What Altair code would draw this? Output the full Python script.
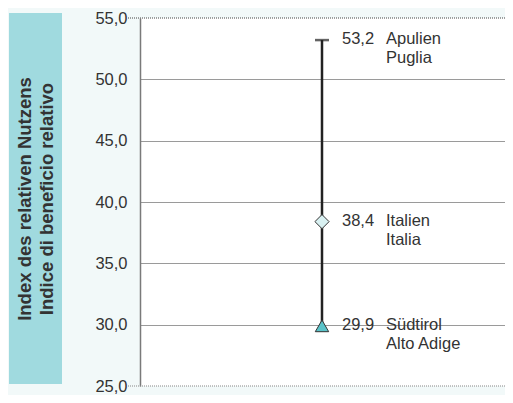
import altair as alt
import pandas as pd

regions_de = ["Apulien", "Italien", "Südtirol"]
regions_it = ["Puglia", "Italia", "Alto Adige"]
values = [53.2, 38.4, 29.9]
value_labels = ["53,2", "38,4", "29,9"]
markers = ["cap", "diamond", "triangle"]
axis_ticks = [25, 30, 35, 40, 45, 50, 55]
y_domain = [25, 55]
title_lines = ["Index des relativen Nutzens", "Indice di beneficio relativo"]

df = pd.DataFrame({
    "de": regions_de,
    "it": regions_it,
    "value": values,
    "vlabel": value_labels,
    "marker": markers,
})

W, H = 365, 368
PT = 10
XPOS = 182
yscale = alt.Scale(domain=y_domain, nice=False, zero=False)
yaxis = alt.Axis(
    values=axis_ticks,
    title=None,
    labelExpr="replace(format(datum.value, '.1f'), '.', ',')",
    labelFont="Liberation Sans",
    labelFontSize=16.5,
    labelColor="#333333",
    labelPadding=13,
    ticks=False,
    domainColor="#7a7a7a",
    domainWidth=1.5,
    gridColor="#9a9a9a",
    gridWidth=1.2,
    gridOpacity={"condition": {"test": "datum.value == 25 || datum.value == 55", "value": 0}, "value": 1},
)

base = alt.Chart(df)

# title box
box = alt.Chart(pd.DataFrame({"t": [title_lines[0]]})).mark_rect(color="#a0dadf").encode(
    x=alt.value(-131), x2=alt.value(-78), y=alt.value(-5), y2=alt.value(H - 2)
)
title_df = pd.DataFrame({"t": title_lines, "xpos": [-115, -93]})
title_text = alt.Chart(title_df).mark_text(
    angle=270, font="Liberation Sans", fontWeight="bold", fontSize=18.5,
    color="#333333", baseline="middle", align="center"
).encode(x=alt.X("xpos:Q", scale=None), y=alt.value(H / 2 - 3), text="t:N")

# borders top/bottom
top_border = alt.Chart(pd.DataFrame({"v": [y_domain[1]]})).mark_rule(
    color="#444444", strokeDash=[1, 1], strokeWidth=1
).encode(y=alt.Y("v:Q", scale=yscale, axis=yaxis), x=alt.value(-12), x2=alt.value(W))
bottom_border = alt.Chart(pd.DataFrame({"v": [y_domain[0]]})).mark_rule(
    color="#888888", strokeDash=[1, 1], strokeWidth=1.2
).encode(y=alt.Y("v:Q", scale=yscale), x=alt.value(-12), x2=alt.value(W))

rule = base.mark_rule(color="#222222", strokeWidth=2.5).encode(
    y=alt.Y("min(value):Q", scale=yscale), y2="max(value):Q", x=alt.value(XPOS)
)
cap = base.transform_filter("datum.marker == 'cap'").mark_tick(
    color="#222222", size=14, thickness=2.5, orient="horizontal"
).encode(y=alt.Y("value:Q", scale=yscale), x=alt.value(XPOS))
diamond = base.transform_filter("datum.marker == 'diamond'").mark_point(
    shape="diamond", filled=True, fill="#d9f1f2", stroke="#333333", strokeWidth=1, size=200, opacity=1
).encode(y=alt.Y("value:Q", scale=yscale), x=alt.value(XPOS))
triangle = base.transform_filter("datum.marker == 'triangle'").mark_point(
    shape="triangle-up", filled=True, fill="#5ac3c9", stroke="#333333", strokeWidth=1, size=180, opacity=1
).encode(y=alt.Y("value:Q", scale=yscale), x=alt.value(XPOS))

txt_kw = dict(font="Liberation Sans", fontSize=16.5, color="#333333", align="left", baseline="alphabetic")
vtext = base.mark_text(dy=4, **txt_kw).encode(
    y=alt.Y("value:Q", scale=yscale), x=alt.value(202), text="vlabel:N"
)
de_text = base.mark_text(dy=4, **txt_kw).encode(
    y=alt.Y("value:Q", scale=yscale), x=alt.value(246), text="de:N"
)
it_text = base.mark_text(dy=23, **txt_kw).encode(
    y=alt.Y("value:Q", scale=yscale), x=alt.value(246), text="it:N"
)

chart = alt.layer(
    top_border, box, title_text, bottom_border, rule, cap, diamond, triangle, vtext, de_text, it_text
).properties(
    width=W, height=H,
    background="#f2f9f9",
    padding={"left": 132, "top": PT, "right": 0, "bottom": 9},
    autosize=alt.AutoSizeParams(type="none"),
).configure_view(fill="white", strokeWidth=0)

chart.save("out.html", embed_options={"renderer": "svg", "actions": False})
